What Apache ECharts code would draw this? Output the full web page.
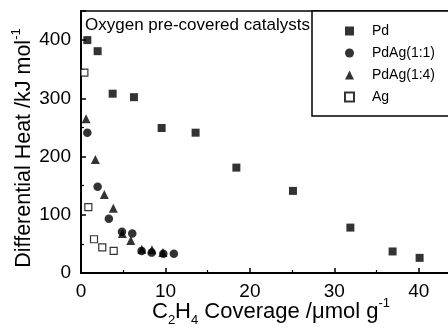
<!DOCTYPE html>
<html><head><meta charset="utf-8">
<script src="https://cdn.jsdelivr.net/npm/echarts@6/dist/echarts.min.js"></script>
<style>html,body{margin:0;padding:0;background:#fff}#c{width:448px;height:330px}</style>
</head><body><div id="c"></div>
<script>
const pdX = [0.75, 1.97, 3.75, 6.27, 9.55, 13.57, 18.4, 25.1, 31.9, 36.9, 40.1];
const pdY = [400, 381, 308, 302, 249, 241, 181, 141, 78, 37, 26];
const pdag11X = [0.75, 1.97, 3.3, 4.85, 6.07, 7.18, 8.37, 9.75, 11.0];
const pdag11Y = [241, 148, 93, 71, 68, 38, 35, 33, 33];
const pdag14X = [0.6, 1.7, 2.76, 3.83, 4.9, 5.9, 7.2, 8.4, 9.7];
const pdag14Y = [265, 195, 135, 111, 68, 56, 41, 40, 35];
const agX = [0.4, 0.87, 1.54, 2.52, 3.87];
const agY = [344, 113, 58, 44, 38];
const xTicks = [0, 10, 20, 30, 40];
const yTicks = [0, 100, 200, 300, 400];

const pair = (xs, ys) => xs.map((x, i) => [x, ys[i]]);
const FONT = 'Liberation Sans, Arial, sans-serif';
const chart = echarts.init(document.getElementById('c'), null, {renderer: 'canvas'});
const axisCommon = {
  axisLine: {show: true, lineStyle: {color: '#000', width: 2}},
  axisTick: {show: true, inside: true, length: 5, lineStyle: {color: '#000', width: 1.5}},
  minorTick: {show: true, splitNumber: 2, length: 3, lineStyle: {color: '#000', width: 1.2}},
  splitLine: {show: false},
  nameMoveOverlap: false,
  axisLabel: {color: '#000', fontFamily: FONT, fontSize: 19, showMaxLabel: false}
};
chart.setOption({
  animation: false,
  backgroundColor: '#fff',
  grid: {left: 81, right: -13, top: 11, bottom: 57, show: true, borderColor: '#000', borderWidth: 1.5,
    containLabel: false, outerBoundsMode: 'none'},
  xAxis: Object.assign({}, axisCommon, {
    type: 'value', min: xTicks[0], max: 45, interval: 10,
    axisLabel: Object.assign({}, axisCommon.axisLabel, {margin: 9}),
    name: 'C{sub|2}H{sub|4} Coverage /μmol g{sup|-1}',
    nameLocation: 'middle', nameGap: 24,
    nameTextStyle: {color: '#000', fontFamily: FONT, fontSize: 22, lineHeight: 30,
      rich: {
        sub: {fontFamily: FONT, fontSize: 13, lineHeight: 13, verticalAlign: 'bottom', color: '#000'},
        sup: {fontFamily: FONT, fontSize: 13, lineHeight: 13, verticalAlign: 'top', color: '#000'}
      }}
  }),
  yAxis: Object.assign({}, axisCommon, {
    type: 'value', min: yTicks[0], max: 450, interval: 100,
    axisLabel: Object.assign({}, axisCommon.axisLabel, {margin: 10}),
    name: 'Differential Heat /kJ mol{sup|-1}',
    nameLocation: 'middle', nameRotate: 90, nameGap: 43,
    nameTextStyle: {color: '#000', fontFamily: FONT, fontSize: 21.5, lineHeight: 28, padding: [0, 12, 0, 0],
      rich: {
        sup: {fontFamily: FONT, fontSize: 13, lineHeight: 13, verticalAlign: 'top', color: '#000'}
      }}
  }),
  legend: {
    orient: 'vertical', left: 312, top: 11,
    padding: [13, 60, 12, 32], itemGap: 8,
    itemWidth: 9, itemHeight: 9,
    borderColor: '#000', borderWidth: 1.5, backgroundColor: '#fff',
    textStyle: {color: '#000', fontFamily: FONT, fontSize: 14, lineHeight: 14, padding: [0, 0, 0, 13]},
    data: [
      {name: 'Pd', icon: 'rect'},
      {name: 'PdAg(1:1)', icon: 'circle'},
      {name: 'PdAg(1:4)', icon: 'triangle'},
      {name: 'Ag', icon: 'rect'}
    ]
  },
  graphic: [{
    type: 'text', left: 85, top: 17, z: 100,
    style: {text: 'Oxygen pre-covered catalysts', fontFamily: FONT, fontSize: 17, fill: '#000'}
  }],
  series: [
    {name: 'Pd', type: 'scatter', symbol: 'rect', symbolSize: 8, data: pair(pdX, pdY),
      itemStyle: {color: '#000'}},
    {name: 'PdAg(1:1)', type: 'scatter', symbol: 'circle', symbolSize: 8.5, data: pair(pdag11X, pdag11Y),
      itemStyle: {color: '#000'}},
    {name: 'PdAg(1:4)', type: 'scatter', symbol: 'triangle', symbolSize: 9, data: pair(pdag14X, pdag14Y),
      itemStyle: {color: '#000'}},
    {name: 'Ag', type: 'scatter', symbol: 'rect', symbolSize: 7, data: pair(agX, agY),
      itemStyle: {color: '#fff', borderColor: '#000', borderWidth: 1.2}}
  ]
});
</script></body></html>
